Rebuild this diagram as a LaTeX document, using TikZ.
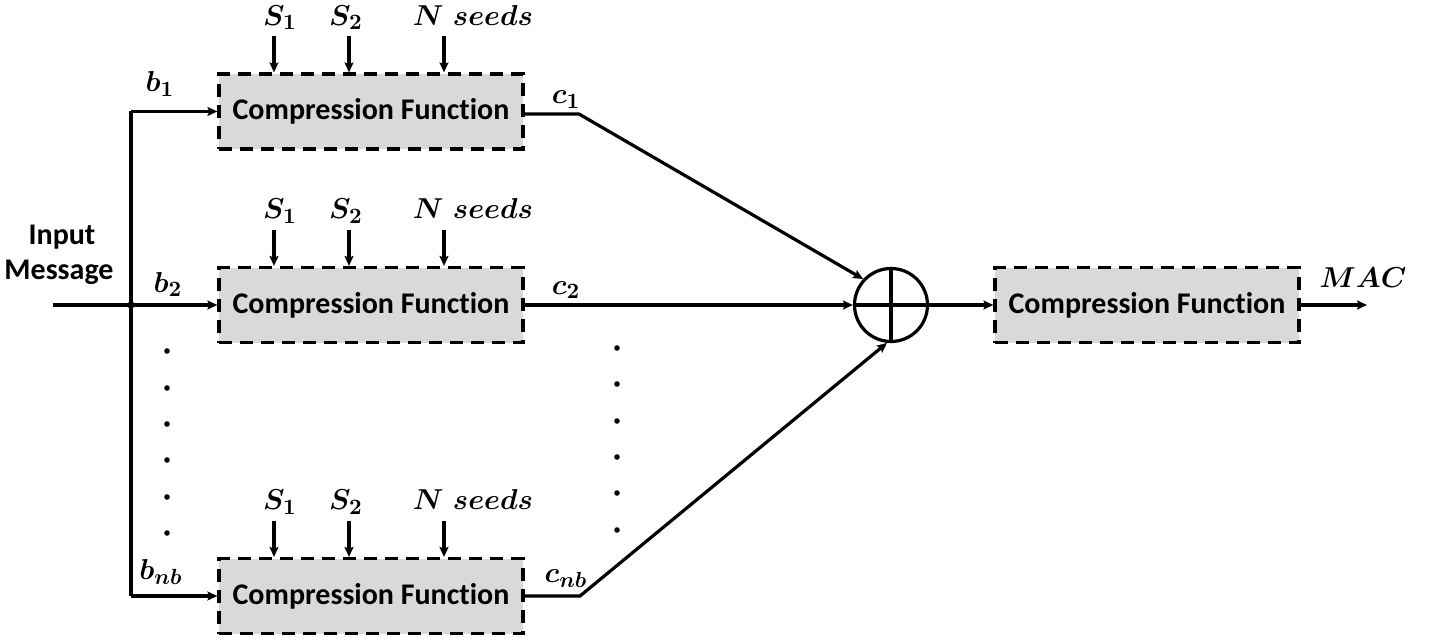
\documentclass[tikz,border=0pt]{standalone}
\usepackage{fontspec}
\usepackage{bm}
\newfontfamily\cffont{Carlito}[Ligatures=NoCommon]
\usetikzlibrary{arrows.meta,calc}
\definecolor{boxfill}{RGB}{217,217,217}
\begin{document}
\begin{tikzpicture}[x=0.5pt,y=-0.5pt,line width=1.6pt,
  arr/.style={-{Stealth[length=5pt,width=4.5pt,inset=1pt]}},
  cfbox/.style={draw,dash pattern=on 6.5pt off 4pt,fill=boxfill,
    minimum width=152pt,minimum height=37.5pt,inner sep=0pt,
    font=\cffont\bfseries\fontsize{15}{18}\selectfont},
  lbl/.style={inner sep=0pt,anchor=base,font=\fontsize{15.5}{18}\selectfont},
  txt/.style={inner sep=0pt,font=\cffont\bfseries\fontsize{15}{18}\selectfont},
  dot/.style={fill,circle,inner sep=0pt,minimum size=2.8pt}]
\useasboundingbox (0,0) rectangle (1429,642);

% compression blocks
\node[cfbox] (cf1) at (371,111.5) {Compression Function};
\node[cfbox] (cf2) at (371,305) {Compression Function};
\node[cfbox] (cf3) at (371,596) {Compression Function};
\node[cfbox] (cfo) at (1147,305) {Compression Function};

% XOR combiner
\node[draw,circle,minimum size=36.5pt,inner sep=0pt] (xr) at (891,305) {};
\draw (xr.north) -- (xr.south) (xr.west) -- (xr.east);

% input message and fan-out
\node[txt] (inp) at (62,237) {Input};
\node[txt] (msg) at (59,272) {Message};
\coordinate (in) at (53,305);
\coordinate (jn) at (131,305);
\coordinate (vtop) at (131,111.5);
\coordinate (vbot) at (131,596);
\draw (in) -- (jn);
\draw (vtop) -- (vbot);
\fill (jn) circle[radius=1.8pt];
\draw[arr] (vtop) -- (cf1.west);
\draw[arr] (jn) -- (cf2.west);
\draw[arr] (vbot) -- (cf3.west);
\node[lbl] (b1) at (160,92) {$\bm{b_1}$};
\node[lbl] (b2) at (168,292) {$\bm{b_2}$};
\node[lbl] (bnb) at (161,579) {$\bm{b_{nb}}$};

% seed inputs on each block
\foreach \b in {cf1,cf2,cf3} {
  \foreach \xx/\lx/\tx in {274/280/{$\bm{S_1}$},349/346/{$\bm{S_2}$},444/473/{$\bm{N\ seeds}$}} {
    \coordinate (\b-ax-\xx) at (\xx,0);
    \coordinate (\b-lx-\xx) at (\lx,0);
    \coordinate (\b-in-\xx) at ($(\b-ax-\xx |- \b.north)+(0,-36)$);
    \node[lbl] (\b-s-\xx) at ($(\b-lx-\xx |- \b.north)+(0,-47)$) {\tx};
    \draw[arr] (\b-in-\xx) -- (\b-ax-\xx |- \b.north);
  }
}

% block outputs to the combiner
\coordinate (k1) at (579,114);
\coordinate (k3) at (580,596);
\draw[arr] (cf1.east |- k1) -- (k1) -- (xr.137);
\draw[arr] (cf2.east) -- (xr.west);
\draw[arr] (cf3.east |- k3) -- (k3) -- (xr.264);
\node[lbl] (c1) at (566,104) {$\bm{c_1}$};
\node[lbl] (c2) at (566,294) {$\bm{c_2}$};
\node[lbl] (cnb) at (566,582) {$\bm{c_{nb}}$};

% final stage
\coordinate (mac) at (1367,305);
\draw[arr] (xr.east) -- (cfo.west);
\draw[arr] (cfo.east) -- (mac);
\node[lbl] (maclbl) at (1363,287) {$\bm{MAC}$};

% ellipsis dots
\foreach \yy [count=\i] in {351,388,424,460,497,533}
  \node[dot] (dl\i) at (167,\yy) {};
\foreach \yy [count=\i] in {348,384,421,457,493,530}
  \node[dot] (dr\i) at (617,\yy) {};
\end{tikzpicture}
\end{document}
